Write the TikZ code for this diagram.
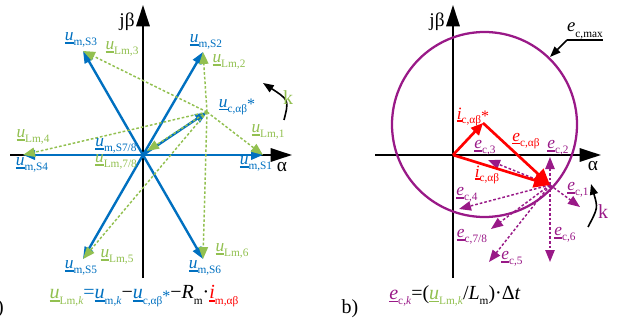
\documentclass[tikz,border=0pt]{standalone}
\usepackage{fontspec}
\setmainfont{Liberation Serif}
\usetikzlibrary{arrows.meta}
\definecolor{cblue}{RGB}{0,112,192}
\definecolor{cgreen}{RGB}{146,192,80}
\definecolor{cred}{RGB}{255,0,0}
\definecolor{cpurp}{RGB}{153,25,135}
\newcommand\ulv[1]{\setbox0\hbox{\itshape #1}\rlap{\rule[-2.2pt]{\wd0}{1.2pt}}\box0}
\newcommand\sbs[1]{\raisebox{-0.28em}{\fontsize{8.5}{8.5}\selectfont #1}}
\newcommand\vl[2]{\ulv{#1}\sbs{#2}}
\newcommand\stt{\raisebox{-0.12em}{\fontsize{12}{12}\selectfont *}}
\begin{document}
\begin{tikzpicture}[x=0.75pt,y=-0.75pt,
  axis/.style={black,line width=1.5pt,-{Triangle[length=16pt,width=10pt]}},
  bvec/.style={cblue,line width=1.8pt,-{Triangle[length=9pt,width=7pt]}},
  gvec/.style={cgreen,line width=1.1pt,dash pattern=on 2pt off 1.5pt,-{Triangle[length=9pt,width=7pt]}},
  rvec/.style={cred,line width=2pt,-{Triangle[length=9pt,width=8pt]}},
  rbig/.style={cred,line width=2pt,-{Triangle[length=12pt,width=11pt]}},
  pvec/.style={cpurp,line width=1.1pt,dash pattern=on 2pt off 1.5pt,-{Triangle[length=9pt,width=7pt]}},
  karrow/.style={black,line width=1.2pt,-{Triangle[length=8pt,width=6pt]}},
  lab/.style={inner sep=0pt,font=\fontsize{13}{13}\selectfont},
  axlab/.style={inner sep=0pt,font=\fontsize{14.5}{14.5}\selectfont},
  eqn/.style={inner sep=0pt,font=\fontsize{15}{15}\selectfont},
]
\useasboundingbox (0,0) rectangle (625,321);

% ---------------- panel a ----------------
\coordinate (Oa) at (143,155);
\coordinate (S1) at (263,155);
\coordinate (S2) at (203,52);
\coordinate (S3) at (83,51);
\coordinate (S4) at (23,155);
\coordinate (S5) at (83,259);
\coordinate (S6) at (203,259);
\coordinate (UC) at (207,112);
\coordinate (O78) at (147,151);
\coordinate (ayb) at (143,278);
\coordinate (ayt) at (143,5);
\coordinate (axl) at (10,155);
\coordinate (axr) at (292,155);

\draw[axis] (ayb) -- (ayt);
\draw[axis] (axl) -- (axr);
\node[axlab] (jba) at (127,22) {jβ};
\node[axlab] (ala) at (282,167) {α};

\foreach \s in {S1,S2,S3,S4,S5,S6} \draw[bvec] (Oa) -- (\s);
\draw[bvec] (Oa) -- (UC);
\foreach \s in {S1,S2,S3,S4,S5,S6} \draw[gvec] (UC) -- (\s);
\draw[gvec] (UC) -- (O78);

\node[lab,cblue] (lS1) at (256,164) {\vl{u}{m,S1}};
\node[lab,cblue] (lS2) at (206,42) {\vl{u}{m,S2}};
\node[lab,cblue] (lS3) at (81,40) {\vl{u}{m,S3}};
\node[lab,cblue] (lS4) at (32,165) {\vl{u}{m,S4}};
\node[lab,cblue] (lS5) at (81,268) {\vl{u}{m,S5}};
\node[lab,cblue] (lS6) at (205,268) {\vl{u}{m,S6}};
\node[lab,cblue] (lS78) at (116,146) {\vl{u}{m,S7/8}};
\node[lab,cblue] (lUC) at (237,107) {\vl{u}{c,αβ}\stt};

\node[lab,cgreen] (lL1) at (268,132) {\vl{u}{Lm,1}};
\node[lab,cgreen] (lL2) at (229,62) {\vl{u}{Lm,2}};
\node[lab,cgreen] (lL3) at (122,49) {\vl{u}{Lm,3}};
\node[lab,cgreen] (lL4) at (33,137) {\vl{u}{Lm,4}};
\node[lab,cgreen] (lL5) at (117,257) {\vl{u}{Lm,5}};
\node[lab,cgreen] (lL6) at (232,251) {\vl{u}{Lm,6}};
\node[lab,cgreen] (lL78) at (116,162) {\vl{u}{Lm,7/8}};

\coordinate (ka0) at (284,120);
\coordinate (ka1) at (263,83);
\draw[karrow] (ka0) .. controls (289,100) .. (ka1);
\node[lab,cgreen,font=\fontsize{15}{15}\selectfont] (ka) at (288,98) {k};

\node[eqn] (eqa) at (144,296) {\textcolor{cgreen}{\vl{u}{Lm,\textit{k}}}\textcolor{cblue}{=\vl{u}{m,\textit{k}}}−\textcolor{cblue}{\vl{u}{c,αβ}\stt}−\textit{R}\sbs{m}·\textcolor{cred}{\vl{i}{m,αβ}}};
\node[eqn,anchor=east] (pa) at (4,309) {a)};

% ---------------- panel b ----------------
\coordinate (Ob) at (453,155);
\coordinate (IC) at (483,123);
\coordinate (P) at (550,185);
\coordinate (E1) at (580,207);
\coordinate (E2) at (550,157);
\coordinate (E3) at (488,160);
\coordinate (E4) at (459,209);
\coordinate (E78) at (491,229);
\coordinate (E5) at (489,262);
\coordinate (E6) at (550,262);
\coordinate (byb) at (453,278);
\coordinate (byt) at (453,5);
\coordinate (bxl) at (375,155);
\coordinate (bxr) at (601,155);

\draw[axis] (byb) -- (byt);
\draw[axis] (bxl) -- (bxr);
\node[axlab] (jbb) at (437,22) {jβ};
\node[axlab] (alb) at (593,166) {α};

\draw[cpurp,line width=1.7pt] (484.5,124.5) circle[radius=92.5];

\coordinate (em0) at (567,40);
\coordinate (em1) at (603,40);
\coordinate (em2) at (550,57);
\node[lab,font=\fontsize{14}{14}\selectfont] (emax) at (585,31) {\textit{e}\sbs{c,max}};
\draw[black,line width=0.9pt] (em0) -- (em1);
\draw[karrow] (em0) -- (em2);

\foreach \e in {E1,E2,E3,E4,E78,E5,E6} \draw[pvec] (P) -- (\e);

\draw[rvec] (Ob) -- (IC);
\draw[rbig] (IC) -- (P);
\draw[rbig] (Ob) -- (P);

\node[lab,cred] (lic) at (473,117) {\vl{i}{c,αβ}\stt};
\node[lab,cred] (lec) at (526,141) {\vl{e}{c,αβ}};
\node[lab,cred] (li) at (487,175) {\vl{i}{c,αβ}};

\node[lab,cpurp] (le1) at (578,190) {\vl{e}{c,1}};
\node[lab,cpurp] (le2) at (558,148) {\vl{e}{c,2}};
\node[lab,cpurp] (le3) at (485,148) {\vl{e}{c,3}};
\node[lab,cpurp] (le4) at (467,195) {\vl{e}{c,4}};
\node[lab,cpurp] (le78) at (472,237) {\vl{e}{c,7/8}};
\node[lab,cpurp] (le5) at (512,259) {\vl{e}{c,5}};
\node[lab,cpurp] (le6) at (565,235) {\vl{e}{c,6}};

\coordinate (kb0) at (588,227);
\coordinate (kb1) at (591,184);
\draw[karrow] (kb0) .. controls (598,208) .. (kb1);
\node[lab,cpurp,font=\fontsize{15}{15}\selectfont] (kb) at (603,212) {k};

\node[eqn] (eqb) at (455,296) {\textcolor{cpurp}{\vl{e}{c,\textit{k}}}=(\textcolor{cgreen}{\vl{u}{Lm,\textit{k}}}/\textit{L}\sbs{m})·Δ\textit{t}};
\node[eqn] (pb) at (350,309) {b)};
\end{tikzpicture}
\end{document}
